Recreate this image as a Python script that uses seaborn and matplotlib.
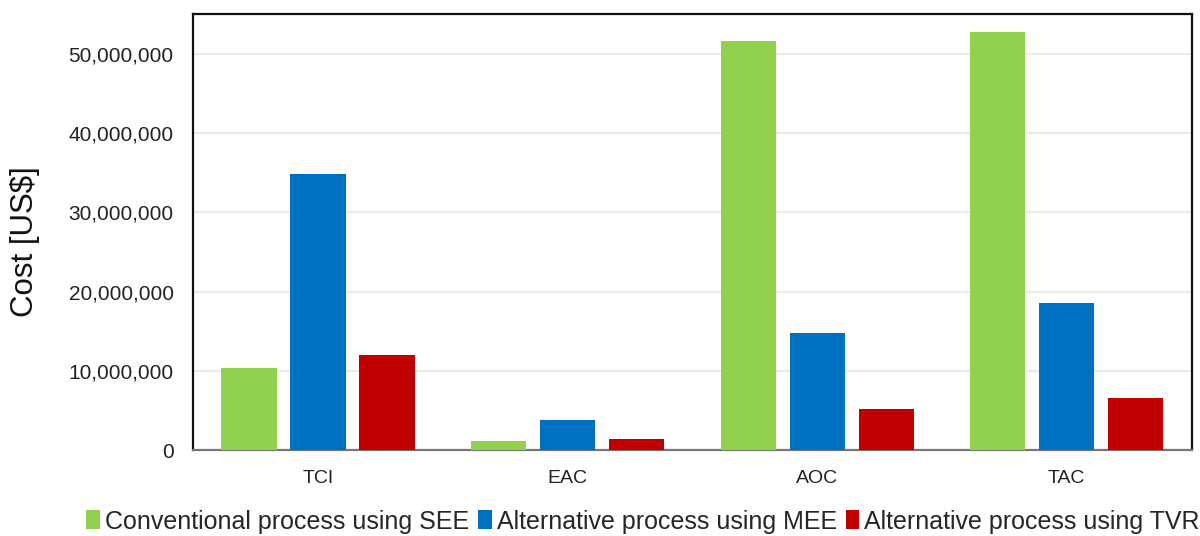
import matplotlib
matplotlib.use("Agg")
import matplotlib.pyplot as plt
import matplotlib.ticker as mticker
from matplotlib.patches import Patch
import seaborn as sns
import pandas as pd

# Cost components per scheme (US$)
categories = ["TCI", "EAC", "AOC", "TAC"]
series_names = [
    "Conventional process using SEE",
    "Alternative process using MEE",
    "Alternative process using TVR",
]
see_costs = [10_400_000, 1_170_000, 51_550_000, 52_720_000]
mee_costs = [34_850_000, 3_780_000, 14_780_000, 18_560_000]
tvr_costs = [12_000_000, 1_450_000, 5_160_000, 6_610_000]
colors = ["#92D050", "#0070C0", "#C00000"]

rows = []
for name, vals in zip(series_names, [see_costs, mee_costs, tvr_costs]):
    for cat, v in zip(categories, vals):
        rows.append({"Category": cat, "Scheme": name, "Cost": v})
df = pd.DataFrame(rows)

sns.set_theme(style="white")
plt.rcParams["font.family"] = ["Liberation Sans", "DejaVu Sans"]

fig = plt.figure(figsize=(12, 5.36), dpi=100)
ax = fig.add_axes([0.161, 0.160, 0.832, 0.814])

sns.barplot(
    data=df, x="Category", y="Cost", hue="Scheme",
    order=categories, hue_order=series_names, palette=colors,
    width=0.83, gap=0.2, saturation=1, errorbar=None, ax=ax,
    edgecolor="none", zorder=3,
)

ax.set_ylim(0, 55_000_000)
ax.set_xlim(-0.5, 3.5)
ax.yaxis.set_major_locator(mticker.MultipleLocator(10_000_000))
ax.yaxis.set_major_formatter(mticker.FuncFormatter(lambda v, p: f"{int(v):,}"))
ax.grid(axis="y", color="#e6e6e6", linewidth=1.2, zorder=0)
ax.set_axisbelow(True)

ax.set_xlabel("")
ax.set_ylabel("Cost [US$]", fontsize=22.5, color="#111111")
ax.yaxis.set_label_coords(-0.153, 0.479)
ax.tick_params(axis="y", labelsize=15, length=0, pad=14, labelcolor="#222222")
ax.tick_params(axis="x", labelsize=14, length=0, pad=14.5, labelcolor="#222222")

for side in ["left", "top", "right"]:
    ax.spines[side].set_color("#111111")
    ax.spines[side].set_linewidth(1.6)
ax.spines["bottom"].set_color("#777777")
ax.spines["bottom"].set_linewidth(1.6)

ax.get_legend().remove()
handles = [Patch(facecolor=c, edgecolor="none") for c in colors]
fig.legend(
    handles, series_names, loc="center", bbox_to_anchor=(0.536, 0.027),
    ncol=3, frameon=False, handlelength=0.55, handleheight=0.8,
    handletextpad=0.2, columnspacing=0.35,
    prop={"family": ["Liberation Sans", "DejaVu Sans"], "size": 18},
)

fig.savefig("out.png", dpi=100, facecolor="white")
